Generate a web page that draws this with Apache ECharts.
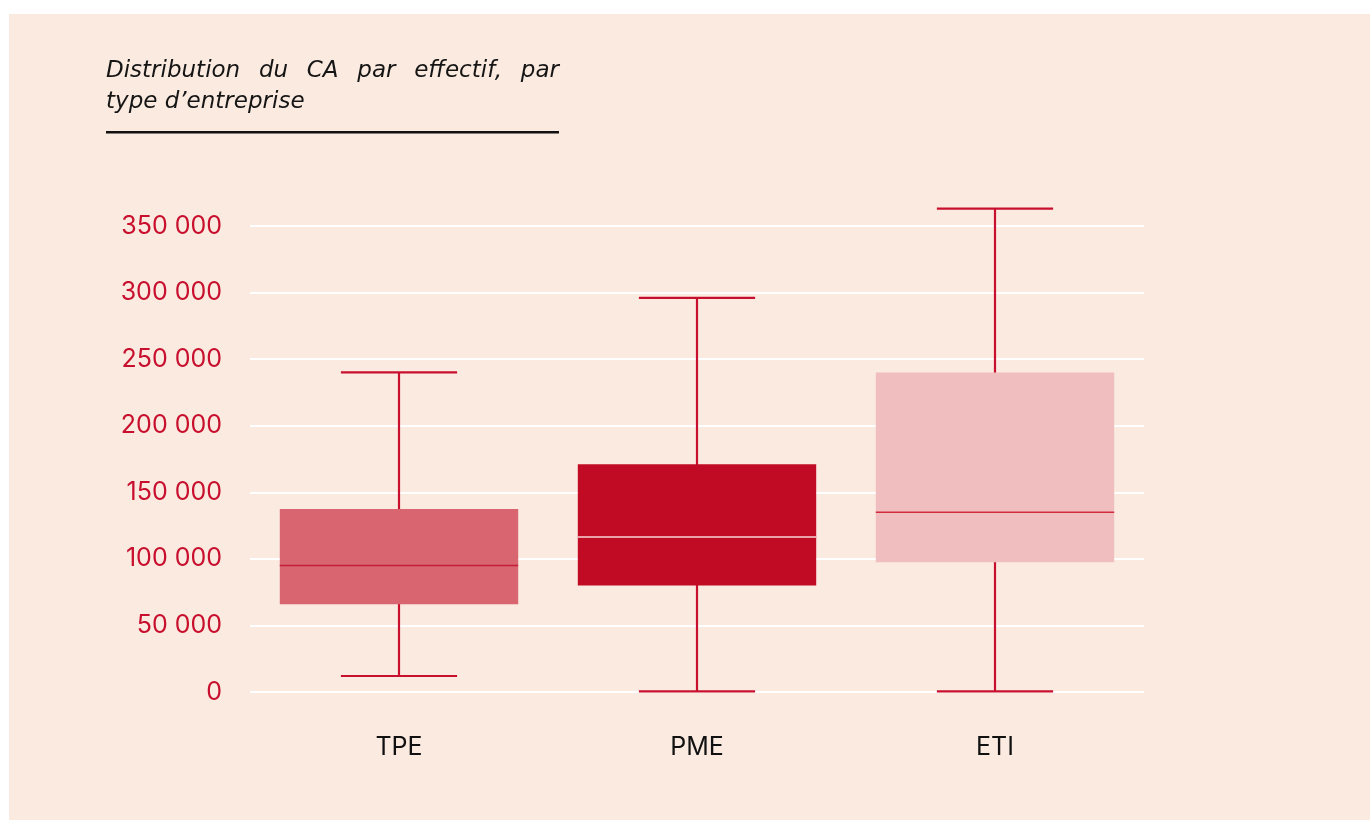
<!DOCTYPE html>
<html>
<head>
<meta charset="utf-8">
<style>
  html, body { margin: 0; padding: 0; background: #ffffff; }
  #chart { width: 1370px; height: 820px; }
</style>
<script src="https://cdn.jsdelivr.net/npm/echarts@6/dist/echarts.min.js"></script>
</head>
<body>
<div id="chart"></div>
<script>
// categories and box statistics (lower whisker, Q1, median, Q3, upper whisker)
const categories = ['TPE', 'PME', 'ETI'];
const lowValues = [12000, 500, 500];
const q1Values = [66000, 80000, 97500];
const medianValues = [95000, 116500, 135000];
const q3Values = [137500, 171000, 240000];
const highValues = [240000, 296000, 363000];
const yTicks = [0, 50000, 100000, 150000, 200000, 250000, 300000, 350000];

const boxColors = ['#d96570', '#c10b25', '#f0bebe'];
const medianColors = ['#c41f35', '#f7d4d6', '#d42a3e'];
const whiskerColor = '#c8102e';
const titleLine1 = 'Distribution du CA par effectif, par';
const titleLine2 = 'type d\u2019entreprise';
const titleFont = 'italic 23px "DejaVu Sans"';

const boxData = categories.map((c, i) =>
  [i, lowValues[i], q1Values[i], medianValues[i], q3Values[i], highValues[i]]);

// justify first title line between x=106 and x=559
const ctx = document.createElement('canvas').getContext('2d');
ctx.font = titleFont;
const words = titleLine1.split(' ');
const widths = words.map(w => ctx.measureText(w).width);
const gap = (559 - 106 - widths.reduce((a, b) => a + b, 0)) / (words.length - 1);
let cursor = 106;
const titleWords = words.map((w, i) => {
  const el = { type: 'text', x: cursor, y: 71, style: { text: w, font: titleFont, fill: '#151515', verticalAlign: 'middle' } };
  cursor += widths[i] + gap;
  return el;
});

function fmt(v) {
  return String(v).replace(/\B(?=(\d{3})+(?!\d))/g, ' ');
}

const chart = echarts.init(document.getElementById('chart'));
chart.setOption({
  animation: false,
  graphic: [
    { type: 'rect', z: -10, shape: { x: 9, y: 14, width: 1361, height: 806 }, style: { fill: '#fbeae0' } },
    ...titleWords,
    { type: 'text', x: 106, y: 102, style: { text: titleLine2, font: titleFont, fill: '#151515', verticalAlign: 'middle' } },
    { type: 'rect', shape: { x: 106, y: 131, width: 453, height: 2.5 }, style: { fill: '#111' } }
  ],
  grid: { left: 250, right: 226, top: 226, bottom: 128 },
  xAxis: {
    type: 'category',
    data: categories,
    axisLine: { show: false },
    axisTick: { show: false },
    axisLabel: { color: '#111', fontSize: 25, fontFamily: 'Inter', margin: 43 }
  },
  yAxis: {
    type: 'value',
    min: yTicks[0],
    max: yTicks[yTicks.length - 1],
    interval: 50000,
    axisLine: { show: false },
    axisTick: { show: false },
    splitLine: { lineStyle: { color: '#ffffff', width: 2 } },
    axisLabel: { color: '#c8102e', fontSize: 25, fontFamily: 'Inter', margin: 28, formatter: fmt }
  },
  series: [{
    type: 'custom',
    data: boxData,
    clip: false,
    renderItem: function (params, api) {
      const x = api.value(0);
      const low = api.coord([x, api.value(1)]);
      const q1 = api.coord([x, api.value(2)]);
      const med = api.coord([x, api.value(3)]);
      const q3 = api.coord([x, api.value(4)]);
      const high = api.coord([x, api.value(5)]);
      const band = api.size([1, 0])[0];
      const bw = band * 0.8;
      const cw = band * 0.39;
      const cx = low[0];
      const i = params.dataIndex;
      const ws = { stroke: whiskerColor, lineWidth: 2.2 };
      return {
        type: 'group',
        children: [
          { type: 'line', shape: { x1: cx, y1: low[1], x2: cx, y2: high[1] }, style: ws },
          { type: 'line', shape: { x1: cx - cw / 2, y1: low[1], x2: cx + cw / 2, y2: low[1] }, style: ws },
          { type: 'line', shape: { x1: cx - cw / 2, y1: high[1], x2: cx + cw / 2, y2: high[1] }, style: ws },
          { type: 'rect', shape: { x: cx - bw / 2, y: q3[1], width: bw, height: q1[1] - q3[1] }, style: { fill: boxColors[i] } },
          { type: 'line', shape: { x1: cx - bw / 2, y1: med[1], x2: cx + bw / 2, y2: med[1] }, style: { stroke: medianColors[i], lineWidth: 1.5 } }
        ]
      };
    }
  }]
});
</script>
</body>
</html>
